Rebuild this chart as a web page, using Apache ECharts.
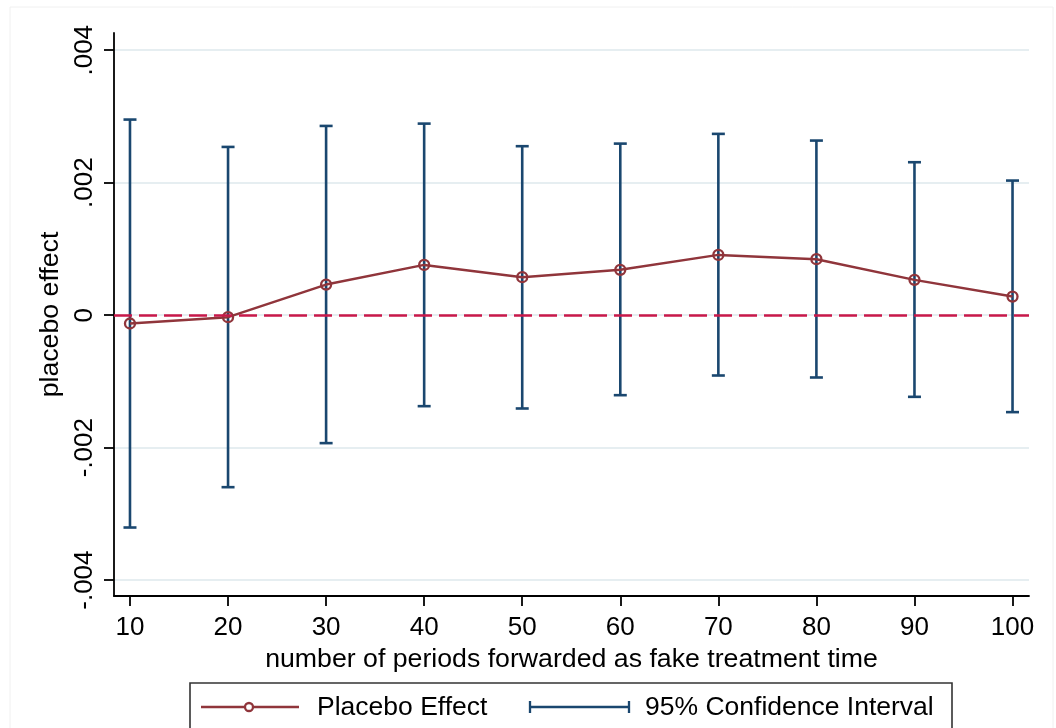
<!DOCTYPE html>
<html>
<head>
<meta charset="utf-8">
<script src="https://cdn.jsdelivr.net/npm/echarts@6/dist/echarts.min.js"></script>
<style>
html,body{margin:0;padding:0;background:#fff;}
#chart{width:1056px;height:728px;}
</style>
</head>
<body>
<div id="chart"></div>
<script>
// ---- data ----
const periods = [10, 20, 30, 40, 50, 60, 70, 80, 90, 100];
const placeboEffect = [-0.000126, -0.00003, 0.000462, 0.000759, 0.000573, 0.000684, 0.000910, 0.000845, 0.000533, 0.000281];
const ciUpper = [0.002953, 0.002540, 0.002857, 0.002892, 0.002551, 0.002590, 0.002737, 0.002636, 0.002309, 0.002032];
const ciLower = [-0.003206, -0.002597, -0.001932, -0.001374, -0.001409, -0.001208, -0.000911, -0.000941, -0.001233, -0.001464];
const yTickValues = [-0.004, -0.002, 0, 0.002, 0.004];
const yTickLabels = ['-.004', '-.002', '0', '.002', '.004'];
const xTickValues = [10, 20, 30, 40, 50, 60, 70, 80, 90, 100];
const xTitle = 'number of periods forwarded as fake treatment time';
const yTitle = 'placebo effect';
const legendLabels = ['Placebo Effect', '95% Confidence Interval'];

const FONT = "'Liberation Sans', Arial, sans-serif";
const NAVY = '#1a476f';
const MAROON = '#90353b';
const RED = '#c9184a';
const GRID = '#e6eef1';

const chart = echarts.init(document.getElementById('chart'), null, {renderer: 'canvas'});

const ciData = periods.map((p, i) => [p, ciLower[i], ciUpper[i]]);
const lineData = periods.map((p, i) => [p, placeboEffect[i]]);

const option = {
  backgroundColor: '#ffffff',
  animation: false,
  grid: {left: 114, right: 27, top: 33, bottom: 132, containLabel: false},
  xAxis: {
    type: 'value',
    min: 8.37,
    max: 101.68,
    name: xTitle,
    nameLocation: 'middle',
    nameGap: 42,
    nameTextStyle: {fontFamily: FONT, fontSize: 26.7, color: '#000'},
    axisLine: {show: true, onZero: false, lineStyle: {color: '#000', width: 1.8}},
    axisTick: {show: true, length: 10, inside: false, customValues: xTickValues, lineStyle: {color: '#000', width: 1.8}},
    axisLabel: {show: true, customValues: xTickValues, margin: 19, fontFamily: FONT, fontSize: 26, color: '#000',
      formatter: v => String(v)},
    splitLine: {show: false}
  },
  yAxis: {
    type: 'value',
    min: -0.00424,
    max: 0.00426,
    name: yTitle,
    nameLocation: 'middle',
    nameGap: 35,
    nameRotate: 90,
    nameTextStyle: {fontFamily: FONT, fontSize: 26.7, color: '#000'},
    axisLine: {show: true, onZero: false, lineStyle: {color: '#000', width: 1.8}},
    axisTick: {show: true, length: 10, inside: false, customValues: yTickValues, lineStyle: {color: '#000', width: 1.8}},
    axisLabel: {show: true, customValues: yTickValues, rotate: 90, margin: 16, fontFamily: FONT, fontSize: 26, color: '#000',
      formatter: v => {
        const idx = yTickValues.findIndex(t => Math.abs(t - v) < 1e-9);
        return idx >= 0 ? yTickLabels[idx] : '';
      }},
    splitLine: {show: true, lineStyle: {color: GRID, width: 2}}
  },
  series: [
    {
      type: 'line',
      data: [],
      z: 1,
      silent: true,
      markLine: {
        silent: true,
        symbol: ['none', 'none'],
        label: {show: false},
        lineStyle: {color: RED, width: 2.5, type: [18, 7]},
        data: [{yAxis: 0}]
      }
    },
    {
      type: 'custom',
      z: 2,
      data: ciData,
      encode: {x: 0, y: [1, 2]},
      renderItem: function (params, api) {
        const x = api.value(0);
        const pLo = api.coord([x, api.value(1)]);
        const pHi = api.coord([x, api.value(2)]);
        const cw = 6.5;
        const st = {stroke: NAVY, lineWidth: 2.6};
        return {
          type: 'group',
          children: [
            {type: 'line', shape: {x1: pLo[0], y1: pLo[1], x2: pHi[0], y2: pHi[1]}, style: st},
            {type: 'line', shape: {x1: pHi[0] - cw, y1: pHi[1], x2: pHi[0] + cw, y2: pHi[1]}, style: st},
            {type: 'line', shape: {x1: pLo[0] - cw, y1: pLo[1], x2: pLo[0] + cw, y2: pLo[1]}, style: st}
          ]
        };
      }
    },
    {
      type: 'line',
      z: 3,
      data: lineData,
      symbol: 'circle',
      symbolSize: 10,
      showSymbol: true,
      lineStyle: {color: MAROON, width: 2.5},
      itemStyle: {color: 'rgba(255,255,255,0)', borderColor: MAROON, borderWidth: 2.3},
      emphasis: {disabled: true}
    }
  ],
  graphic: [
    {type: 'rect', shape: {x: 10, y: 7, width: 1043, height: 740}, style: {fill: 'none', stroke: '#f0f0f0', lineWidth: 1}, silent: true, z: -10},
    {type: 'rect', silent: true, shape: {x: 190, y: 683, width: 762, height: 60}, style: {fill: '#fff', stroke: '#333', lineWidth: 1.6}},
    {type: 'line', silent: true, shape: {x1: 201, y1: 707, x2: 299, y2: 707}, style: {stroke: MAROON, lineWidth: 2.5}},
    {type: 'circle', silent: true, shape: {cx: 249, cy: 707, r: 4}, style: {fill: '#fff', stroke: MAROON, lineWidth: 2.3}},
    {type: 'text', silent: true, x: 317, y: 708, style: {text: legendLabels[0], fontFamily: FONT, fontSize: 26.5, fill: '#000', verticalAlign: 'middle', align: 'left'}},
    {type: 'line', silent: true, shape: {x1: 530, y1: 707, x2: 629, y2: 707}, style: {stroke: NAVY, lineWidth: 2.3}},
    {type: 'line', silent: true, shape: {x1: 530, y1: 701, x2: 530, y2: 713}, style: {stroke: NAVY, lineWidth: 2.3}},
    {type: 'line', silent: true, shape: {x1: 629, y1: 701, x2: 629, y2: 713}, style: {stroke: NAVY, lineWidth: 2.3}},
    {type: 'text', silent: true, x: 645, y: 708, style: {text: legendLabels[1], fontFamily: FONT, fontSize: 26.5, fill: '#000', verticalAlign: 'middle', align: 'left'}}
  ]
};
chart.setOption(option);
</script>
</body>
</html>
